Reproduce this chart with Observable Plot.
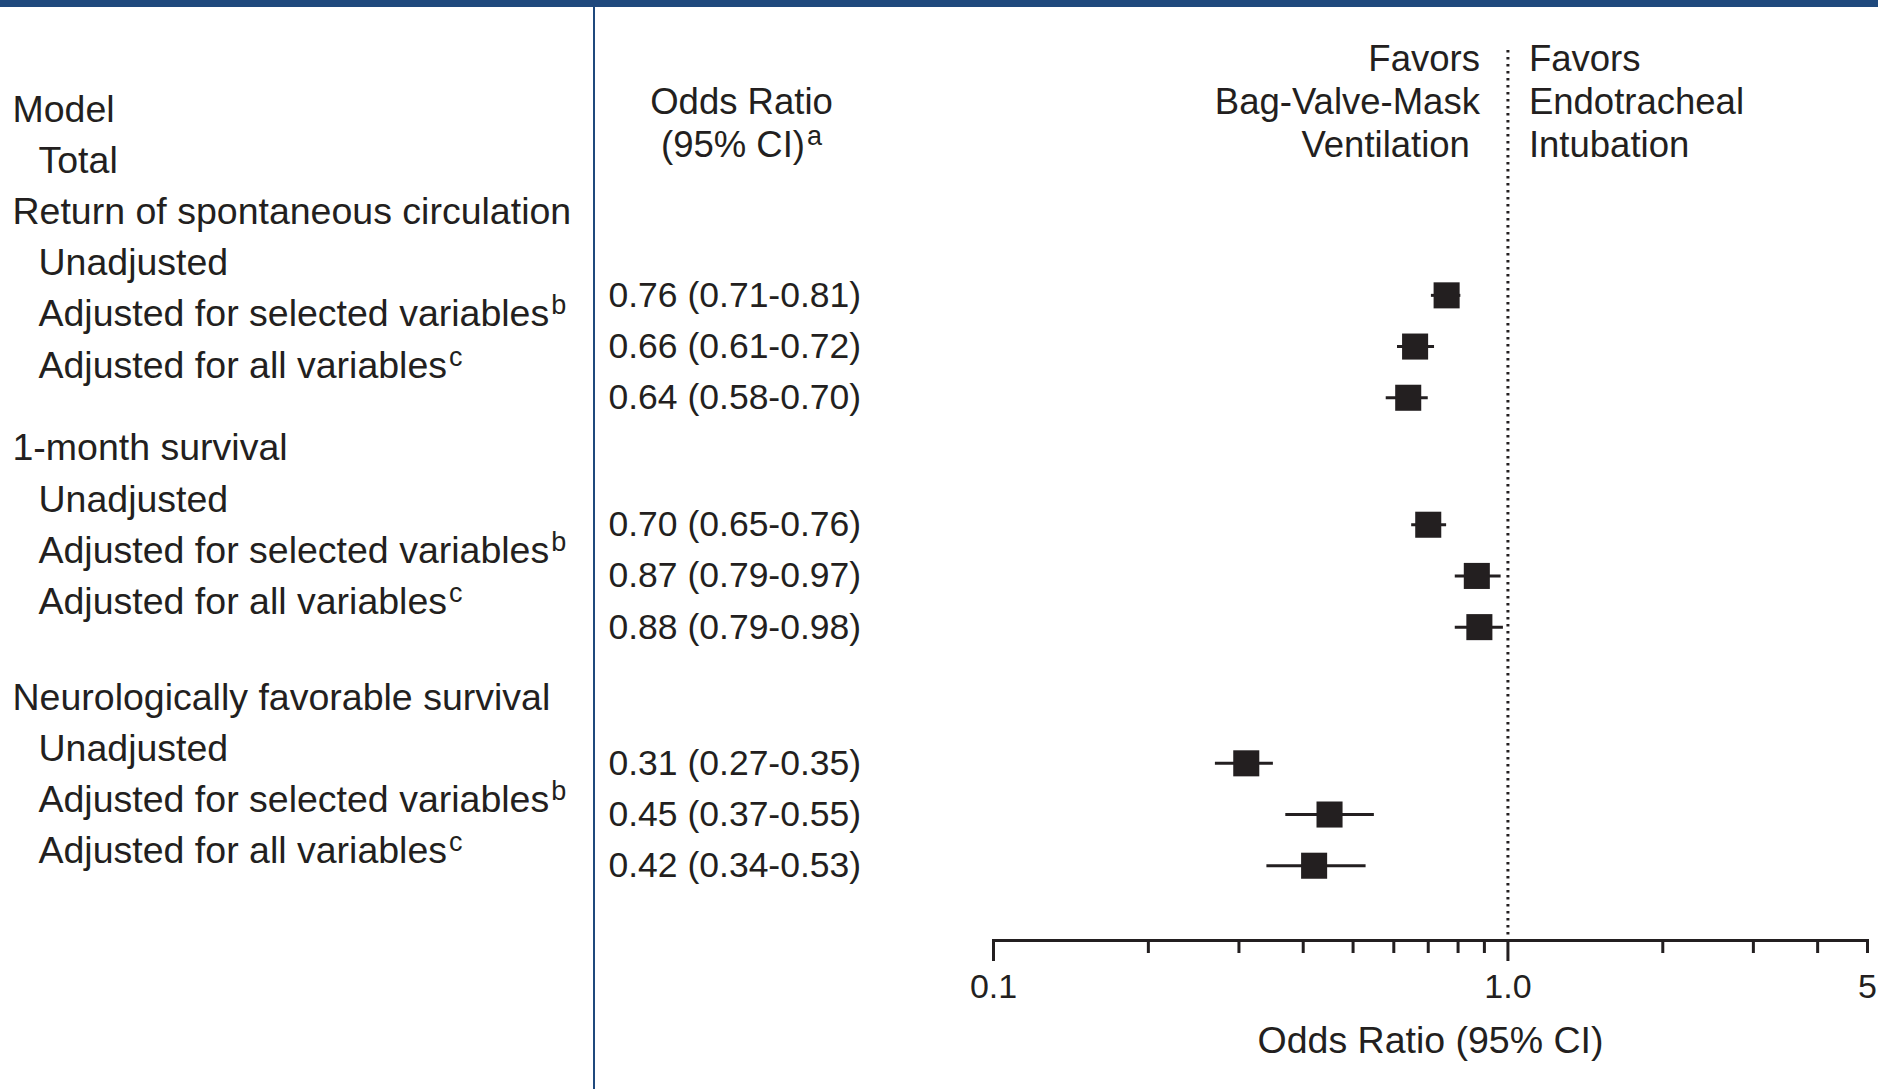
<!DOCTYPE html>
<html>
<head>
<meta charset="utf-8">
<script src="https://cdn.jsdelivr.net/npm/d3@7"></script>
<script src="https://cdn.jsdelivr.net/npm/@observablehq/plot@0.6"></script>
<style>
  html, body { margin: 0; padding: 0; background: #fff; }
  #wrap { position: relative; width: 1878px; height: 1089px; overflow: hidden; background: #fff; }
  #topbar { position: absolute; left: 0; top: 0; width: 1878px; height: 7px; background: #1f497d; }
  #divider { position: absolute; left: 593px; top: 0; width: 2px; height: 1089px; background: #1f497d; }
  #chart svg { display: block; }
</style>
</head>
<body>
<div id="wrap">
  <div id="chart"></div>
  <div id="topbar"></div>
  <div id="divider"></div>
</div>
<script>
// ---------------- data ----------------
const modelHeader = "Model";
const totalLabel = "Total";
const groups = ["Return of spontaneous circulation", "1-month survival", "Neurologically favorable survival"];
const models = ["Unadjusted", "Adjusted for selected variables", "Adjusted for all variables"];
const modelNotes = ["", "b", "c"];
const orValues = [0.76, 0.66, 0.64, 0.70, 0.87, 0.88, 0.31, 0.45, 0.42];
const ciLow    = [0.71, 0.61, 0.58, 0.65, 0.79, 0.79, 0.27, 0.37, 0.34];
const ciHigh   = [0.81, 0.72, 0.70, 0.76, 0.97, 0.98, 0.35, 0.55, 0.53];
const orHeader = ["Odds Ratio", "(95% CI)"];
const orHeaderNote = "a";
const favorsLeft = ["Favors", "Bag-Valve-Mask", "Ventilation"];
const favorsRight = ["Favors", "Endotracheal", "Intubation"];
const axisTicks = [0.1, 0.2, 0.3, 0.4, 0.5, 0.6, 0.7, 0.8, 0.9, 1, 2, 3, 4, 5];
const labeledTicks = [0.1, 1, 5];
const tickLabels = ["0.1", "1.0", "5"];
const axisTitle = "Odds Ratio (95% CI)";

// ---------------- layout ----------------
const ink = "#231f20";
const rowPx = 51.2;
const labelShift = [0, 0.62, 1.49];   // extra space before each group (label column)
const estShift = [0, 1.48, 3.14];     // row placement of estimates per group
const headerStart = -0.98, headerStep = 0.84;

const labelRows = [
  {text: modelHeader, y: 0, level: 0},
  {text: totalLabel, y: 1, level: 1}
];
const estimates = [];
groups.forEach((g, gi) => {
  const base = 2 + gi * 4 + labelShift[gi];
  labelRows.push({text: g, y: base, level: 0});
  models.forEach((m, mi) => {
    labelRows.push({text: m + (modelNotes[mi] ? "|" + modelNotes[mi] : ""), y: base + 1 + mi, level: 1});
    const k = gi * 3 + mi;
    estimates.push({
      or: orValues[k], lo: ciLow[k], hi: ciHigh[k],
      y: 3.63 + k + estShift[gi],
      label: `${orValues[k].toFixed(2)} (${ciLow[k].toFixed(2)}-${ciHigh[k].toFixed(2)})`
    });
  });
});
const hy = i => headerStart + headerStep * i;
const orHeaderRows = orHeader.map((t, i) => ({text: i === orHeader.length - 1 ? t + "|" + orHeaderNote : t, y: hy(i + 1)}));
const leftFavRows = favorsLeft.map((t, i) => ({text: t, y: hy(i), x: 1, last: i === favorsLeft.length - 1}));
const rightFavRows = favorsRight.map((t, i) => ({text: t, y: hy(i), x: 1}));

const isDecade = d => Math.abs(Math.log10(d) - Math.round(Math.log10(d))) < 1e-9;
const longTicks = axisTicks.filter(d => isDecade(d) && d < 5);
const shortTicks = axisTicks.filter(d => !longTicks.includes(d));

const plot = Plot.plot({
  width: 1878,
  height: 1089,
  marginLeft: 993,
  marginRight: 11,
  marginTop: 50,
  marginBottom: 149,
  x: {type: "log", domain: [0.1, 5], axis: null},
  y: {type: "linear", domain: [0, 15], range: [109, 109 + 15 * rowPx], axis: null},
  style: {fontFamily: "'Liberation Sans', Arial, Helvetica, sans-serif", fontSize: "37.5px", color: ink, background: "transparent", overflow: "visible"},
  marks: [
    // null line
    Plot.ruleX([1], {stroke: ink, strokeWidth: 3, strokeDasharray: "2.5,4.5"}),
    // axis line + ticks + labels
    Plot.frame({anchor: "bottom", stroke: ink, strokeWidth: 3}),
    Plot.axisX(longTicks, {tickSize: 21, strokeWidth: 3, stroke: ink, fill: "none", label: null, tickFormat: () => ""}),
    Plot.axisX(shortTicks, {tickSize: 13, strokeWidth: 3, stroke: ink, fill: "none", label: null, tickFormat: () => ""}),
    Plot.axisX(labeledTicks, {tickSize: 0, tickPadding: 33, fontSize: 34, fill: ink, label: null,
      tickFormat: d => tickLabels[labeledTicks.indexOf(d)]}),
    Plot.text([axisTitle], {text: d => d, frameAnchor: "bottom", lineAnchor: "middle", dy: 100, fontSize: 37.5, fill: ink}),
    // confidence intervals and point estimates
    Plot.ruleY(estimates, {x1: "lo", x2: "hi", y: "y", stroke: ink, strokeWidth: 3}),
    Plot.dot(estimates, {x: "or", y: "y", symbol: "square", r: 14.7, fill: ink, stroke: "none"}),
    // left label column
    Plot.text(labelRows.filter(d => d.level === 0), {y: "y", text: "text", frameAnchor: "left", textAnchor: "start", lineAnchor: "middle", dx: -981, fontSize: 37.5, fill: ink}),
    Plot.text(labelRows.filter(d => d.level === 1), {y: "y", text: "text", frameAnchor: "left", textAnchor: "start", lineAnchor: "middle", dx: -955, fontSize: 37.5, fill: ink}),
    // odds ratio column
    Plot.text(estimates, {y: "y", text: "label", frameAnchor: "left", textAnchor: "start", lineAnchor: "middle", dx: -385, fontSize: 35.5, fill: ink}),
    Plot.text(orHeaderRows, {y: "y", text: "text", frameAnchor: "left", textAnchor: "middle", lineAnchor: "middle", dx: -252, fontSize: 36.5, fill: ink}),
    // favors headers
    Plot.text(leftFavRows.filter(d => !d.last), {x: "x", y: "y", text: "text", textAnchor: "end", lineAnchor: "middle", dx: -28, fontSize: 36.5, fill: ink}),
    Plot.text(leftFavRows.filter(d => d.last), {x: "x", y: "y", text: "text", textAnchor: "end", lineAnchor: "middle", dx: -38, fontSize: 36.5, fill: ink}),
    Plot.text(rightFavRows, {x: "x", y: "y", text: "text", textAnchor: "start", lineAnchor: "middle", dx: 21, fontSize: 36.5, fill: ink})
  ]
});

// superscript footnote markers
plot.querySelectorAll("text").forEach(t => {
  const s = t.textContent;
  const i = s.indexOf("|");
  if (i < 0) return;
  t.textContent = s.slice(0, i);
  const sup = document.createElementNS("http://www.w3.org/2000/svg", "tspan");
  sup.setAttribute("dy", "-12");
  sup.setAttribute("dx", "2");
  sup.setAttribute("font-size", "27");
  sup.textContent = s.slice(i + 1);
  t.appendChild(sup);
});

document.getElementById("chart").appendChild(plot);
</script>
</body>
</html>
